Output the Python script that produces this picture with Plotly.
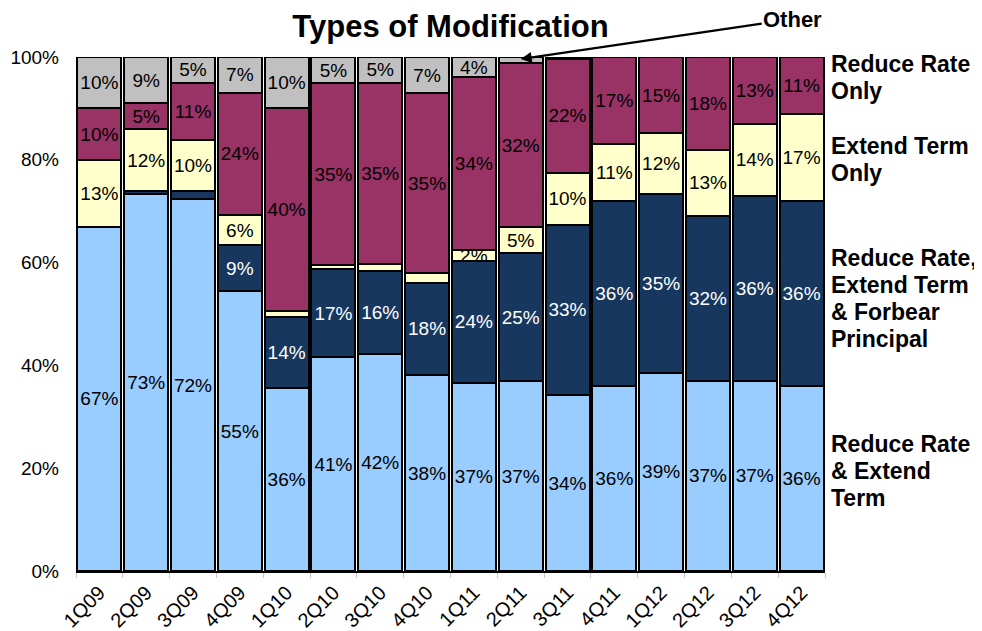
import plotly.graph_objects as go

quarters = ["1Q09", "2Q09", "3Q09", "4Q09", "1Q10", "2Q10", "3Q10", "4Q10",
            "1Q11", "2Q11", "3Q11", "4Q11", "1Q12", "2Q12", "3Q12", "4Q12"]

# share of modifications by type (%), bottom to top
reduce_extend = [67, 73, 72, 55, 36, 41, 42, 38, 37, 37, 34, 36, 39, 37, 37, 36]
forbear = [0, 0.5, 1.6, 9, 14, 17, 16, 18, 24, 25, 33, 36, 35, 32, 36, 36]
extend_only = [13, 12, 10, 6, 1.2, 0.7, 1.3, 1.8, 2, 5, 10, 11, 12, 13, 14, 17]
reduce_only = [10, 5, 11, 24, 40, 35, 35, 35, 34, 32, 22, 17, 15, 18, 13, 11]
other = [10, 9, 5, 7, 10, 5, 5, 7, 4, 1.2, 0.4, 0, 0, 0, 0, 0]

series = [
    ("Reduce Rate & Extend Term", reduce_extend, "#99CCFF", "black"),
    ("Reduce Rate, Extend Term & Forbear Principal", forbear, "#17375E", "white"),
    ("Extend Term Only", extend_only, "#FFFFCC", "black"),
    ("Reduce Rate Only", reduce_only, "#993366", "black"),
    ("Other", other, "#C0C0C0", "black"),
]

FONT = "Liberation Sans, Arial, sans-serif"

fig = go.Figure()
for name, vals, color, tcol in series:
    fig.add_trace(go.Bar(
        x=quarters, y=vals, name=name,
        marker=dict(color=color, line=dict(color="black", width=2)),
        text=[f"{round(v)}%" if v >= 2 else "" for v in vals],
        textposition="inside",
        insidetextanchor="middle",
        textangle=0,
        textfont=dict(family=FONT, size=19, color=tcol),
        hoverinfo="skip",
    ))

# category labels at the right of the last bar, one annotation per line
# so the line spacing can be kept tight
right_labels = [
    (["Reduce Rate", "Only"], 98.6),
    (["Extend Term", "Only"], 82.7),
    (["Reduce Rate,", "Extend Term", "& Forbear", "Principal"], 60.9),
    (["Reduce Rate", "& Extend", "Term"], 24.7),
]
for lines, ypos in right_labels:
    for k, line in enumerate(lines):
        fig.add_annotation(
            x=1, xref="paper", y=ypos, yref="y", text=line,
            xanchor="left", yanchor="middle", align="left",
            xshift=4, yshift=-27 * k,
            showarrow=False,
            font=dict(family=FONT, size=23, color="black", weight="bold"),
        )

# "Other" callout pointing at the thin gray slice of 2Q11
fig.add_annotation(
    x="2Q11", y=99.6, xref="x", yref="y",
    text="Other", showarrow=True,
    ax=272, ay=-40, axref="pixel", ayref="pixel",
    arrowhead=2, arrowsize=1, arrowwidth=2.2, arrowcolor="black",
    font=dict(family=FONT, size=22, color="black", weight="bold"),
)

fig.update_layout(
    barmode="stack",
    barnorm="percent",
    bargap=0.06,
    width=974, height=623,
    showlegend=False,
    plot_bgcolor="white",
    paper_bgcolor="white",
    margin=dict(l=68, r=157, t=49, b=60),
    uniformtext=dict(minsize=19, mode="show"),
    title=dict(
        text="Types of Modification",
        x=(68 + 817) / 2 / 974, xref="container", y=1, yref="container",
        xanchor="center", yanchor="top", pad=dict(t=7),
        font=dict(family=FONT, size=31, color="black", weight="bold"),
    ),
    xaxis=dict(
        tickangle=-45,
        tickfont=dict(family=FONT, size=20, color="black"),
        showline=True, linecolor="black", linewidth=2,
        ticks="outside", tickson="boundaries", ticklen=5, tickcolor="#c8c8c8",
        showgrid=False, automargin=False,
    ),
    yaxis=dict(
        range=[0, 100],
        tickvals=[0, 20, 40, 60, 80, 100],
        ticktext=["0%", "20%", "40%", "60%", "80%", "100%"],
        tickfont=dict(family=FONT, size=19, color="black"),
        ticklabelstandoff=16,
        showgrid=True, gridcolor="#ececec", gridwidth=1,
        zeroline=False, showline=False, automargin=False,
    ),
)

fig.write_html("out.html")
